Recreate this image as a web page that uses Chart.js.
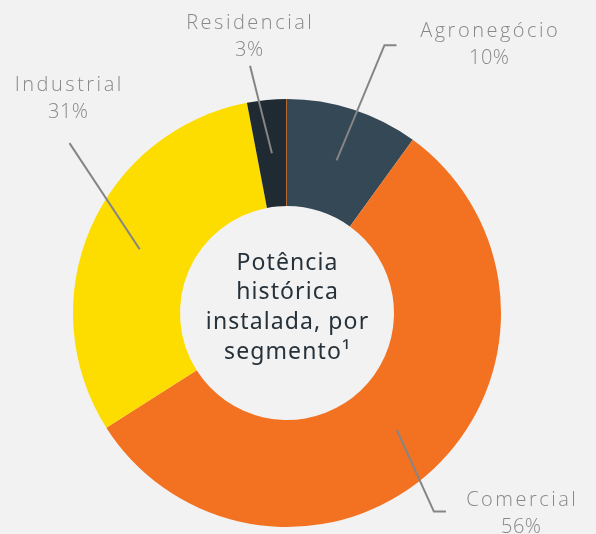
<!DOCTYPE html>
<html>
<head>
<meta charset="utf-8">
<script src="https://cdn.jsdelivr.net/npm/chart.js@4.4.1/dist/chart.umd.min.js"></script>
<style>
  html, body { margin: 0; padding: 0; background: #f2f2f2; }
  #wrap { width: 596px; height: 534px; }
</style>
</head>
<body>
<div id="wrap"><canvas id="chartSegmento" width="596" height="534"></canvas></div>
<script>
// dados do gráfico
const segmentos = ['Agronegócio', 'Comercial', 'Industrial', 'Residencial'];
const percentuais = [10, 56, 31, 3];
const cores = ['#344856', '#f37221', '#fddc00', '#1f2a32'];
const tituloCentro = ['Potência', 'histórica', 'instalada, por', 'segmento¹'];

// posição dos rótulos e linhas de chamada (relativo ao centro do gráfico)
const rotulos = [
    { dx: 202, dy: -282, ang: 20, r: 285, cauda: 12 },
    { dx: 234, dy: 187, ang: 143.5, r: 247, cauda: 12 },
    { dx: -219, dy: -228, ang: 308, r: 276, cauda: 0 },
    { dx: -38, dy: -290, ang: 351.5, r: 250, cauda: 0 }
];

// texto centralizado com espaçamento entre letras
function textoEspacado(ctx, texto, x, y, esp) {
    ctx.letterSpacing = esp + 'px';
    ctx.fillText(texto, x + esp / 2, y);
    ctx.letterSpacing = '0px';
}

const rotulosPlugin = {
    id: 'rotulosPlugin',
    afterDraw(chart) {
        const ctx = chart.ctx;
        const meta = chart.getDatasetMeta(0);
        const cx = meta.data[0].x;
        const cy = meta.data[0].y;

        // fina linha laranja no início do primeiro segmento
        const a0 = meta.data[0];
        ctx.save();
        ctx.strokeStyle = '#b8692f';
        ctx.lineWidth = 1;
        ctx.beginPath();
        ctx.moveTo(cx - 0.5, cy - a0.innerRadius);
        ctx.lineTo(cx - 0.5, cy - a0.outerRadius);
        ctx.stroke();

        // linhas de chamada
        ctx.strokeStyle = '#858585';
        ctx.lineWidth = 2;
        meta.data.forEach((arc, i) => {
            const p = arc.tooltipPosition();
            const cfg = rotulos[i];
            const rad = cfg.ang * Math.PI / 180;
            const ex = cx + Math.sin(rad) * cfg.r;
            const ey = cy - Math.cos(rad) * cfg.r;
            ctx.beginPath();
            ctx.moveTo(p.x, p.y);
            ctx.lineTo(ex, ey);
            if (cfg.cauda) ctx.lineTo(ex + cfg.cauda, ey);
            ctx.stroke();
        });

        // textos dos segmentos
        ctx.fillStyle = '#888888';
        ctx.textAlign = 'center';
        ctx.textBaseline = 'middle';
        ctx.font = '300 20px "Open Sans", sans-serif';
        segmentos.forEach((nome, i) => {
            const cfg = rotulos[i];
            textoEspacado(ctx, nome, cx + cfg.dx, cy + cfg.dy, 2.5);
            textoEspacado(ctx, percentuais[i] + '%', cx + cfg.dx, cy + cfg.dy + 27, 0.5);
        });

        // título central
        ctx.fillStyle = '#26313a';
        ctx.font = '400 23px "Noto Sans", sans-serif';
        tituloCentro.forEach((linha, i) => {
            textoEspacado(ctx, linha, cx, cy - 50 + i * 29.7, 1.1);
        });
        ctx.restore();
    }
};

new Chart(document.getElementById('chartSegmento').getContext('2d'), {
    type: 'doughnut',
    data: {
        labels: segmentos,
        datasets: [{
            data: percentuais,
            backgroundColor: cores,
            borderWidth: 0,
            hoverOffset: 0
        }]
    },
    options: {
        responsive: false,
        animation: false,
        cutout: '50%',
        layout: { padding: { left: 73, right: 95, top: 99, bottom: 7 } },
        plugins: {
            legend: { display: false },
            tooltip: { enabled: false }
        }
    },
    plugins: [rotulosPlugin]
});
</script>
</body>
</html>
